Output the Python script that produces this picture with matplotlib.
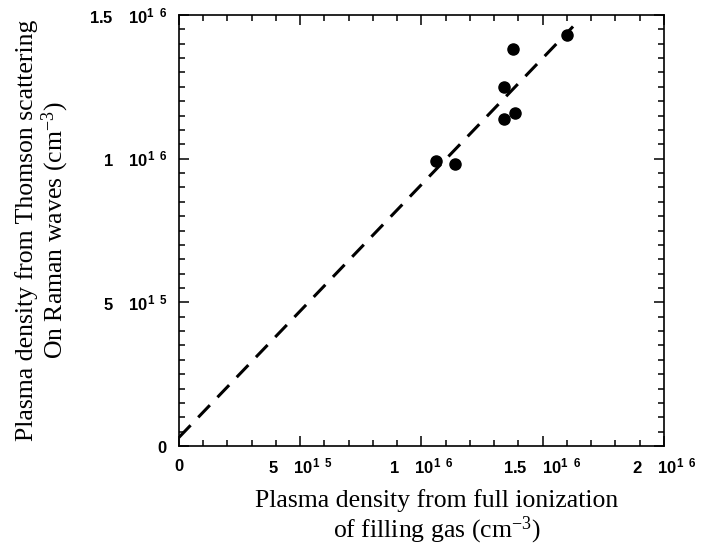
import matplotlib
matplotlib.use("Agg")
import matplotlib.pyplot as plt
import numpy as np
from matplotlib.ticker import MultipleLocator

# measured densities (cm^-3)
x_fill = np.array([10.58, 11.38, 13.40, 13.40, 13.76, 13.87, 16.01]) * 1e15
y_thomson = np.array([9.91, 9.83, 12.50, 11.38, 13.82, 11.59, 14.32]) * 1e15

# dashed reference line end points
fit_x = np.array([0.0, 16.25]) * 1e15
fit_y = np.array([0.3, 14.6]) * 1e15

x_ticks = [0, 5e15, 1e16, 1.5e16, 2e16]
x_ticklabels = [r"$\mathbf{0}$", r"$\mathbf{5\quad10^{1\;\;5}}$",
                r"$\mathbf{1\quad10^{1\;\;6}}$", r"$\mathbf{1.5\quad10^{1\;\;6}}$",
                r"$\mathbf{2\quad10^{1\;\;6}}$"]
y_ticks = [0, 5e15, 1e16, 1.5e16]
y_ticklabels = [r"$\mathbf{0}$", r"$\mathbf{5\quad10^{1\;\;5}}$",
                r"$\mathbf{1\quad10^{1\;\;6}}$", r"$\mathbf{1.5\quad10^{1\;\;6}}$"]

plt.rcParams["mathtext.fontset"] = "custom"
plt.rcParams["mathtext.rm"] = "Liberation Serif"
plt.rcParams["mathtext.bf"] = "Liberation Sans:bold"
plt.rcParams["mathtext.default"] = "rm"

fig = plt.figure(figsize=(7.01, 5.52), dpi=100)
ax = fig.add_axes([0.2553, 0.192, 0.6919, 0.7808])

ax.plot(fit_x, fit_y, color="black", lw=2.2, ls=(0, (5.5, 3.6)))
ax.plot(x_fill, y_thomson, "o", color="black", ms=8)

ax.set_xlim(0, 2e16)
ax.set_ylim(0, 1.5e16)
ax.set_xticks(x_ticks)
ax.set_xticklabels(x_ticklabels, fontsize=12)
ax.set_yticks(y_ticks)
ax.set_yticklabels(y_ticklabels, fontsize=12)
ax.xaxis.set_minor_locator(MultipleLocator(1e15))
ax.yaxis.set_minor_locator(MultipleLocator(5e14))
ax.tick_params(which="both", direction="in", top=True, right=True, width=1.1)
ax.tick_params(which="major", length=7)
ax.tick_params(which="minor", length=4)
ax.tick_params(axis="x", pad=8)
ax.tick_params(axis="y", pad=8)
for s in ax.spines.values():
    s.set_linewidth(1.2)

ax.set_xlabel("Plasma density from full ionization\nof filling gas (cm$^{-3}$)",
              family="Liberation Serif", fontsize=18.5, linespacing=1.1)
ax.xaxis.set_label_coords(0.532, -0.10)
ax.set_ylabel("Plasma density from Thomson scattering\nOn Raman waves (cm$^{-3}$)",
              family="Liberation Serif", fontsize=18.5, linespacing=1.1)
ax.yaxis.set_label_coords(-0.222, 0.5)

fig.savefig("out.png", dpi=100)
